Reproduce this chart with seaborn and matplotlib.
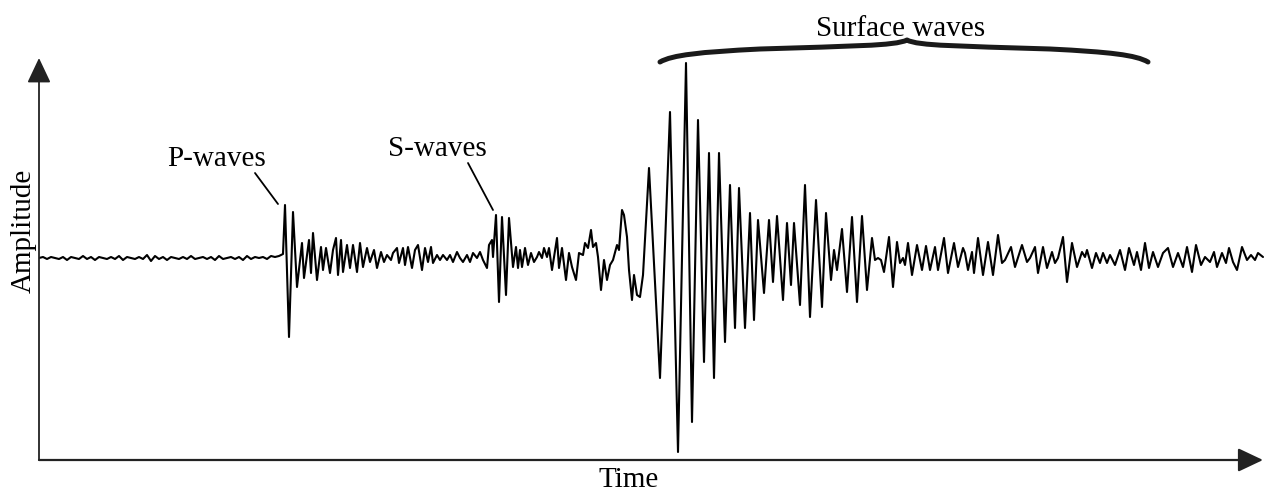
import numpy as np
import pandas as pd
import matplotlib
matplotlib.use("Agg")
import matplotlib.pyplot as plt
from matplotlib.path import Path
from matplotlib.patches import PathPatch
from matplotlib.lines import Line2D
import seaborn as sns

# ---------------- data (time in arbitrary units, amplitude in arbitrary units) -------------
# background noise before the P arrival, sampled every 4 time units from t = 0
quiet_amp = [0, 1, -1, 1, 0, -1, 1, -2, 1, 0,
             -1, 2, -1, 1, -2, 1, 0, -1, 1, -1,
             2, -2, 1, 0, -1, 1, -1, 3, -3, 2,
             -1, 1, -2, 1, 0, -1, 1, -1, 2, -1,
             0, 1, -1, 1, -2, 2, -1, 0, 1, -1,
             1, -2, 2, -1, 1, 0, 1, -1, 2, 1,
             2, 4]
quiet_step = 4

p_time = [246, 250, 254, 258, 263, 265, 270, 272, 274, 278, 282, 284, 287, 291, 294,
          297, 299, 302, 304, 308, 311, 314, 318, 321, 324, 328, 331, 335, 338, 342,
          345, 348, 352, 354, 358, 360, 364, 366, 369, 373, 376, 379, 383, 386, 389,
          392, 394, 398, 401, 404, 408, 411, 414, 418, 421]
p_amp = [53, -79, 46, -29, 15, -20, 18, -15, 25, -22, 11, -12, 10, -15, 8,
         20, -17, 18, -14, 13, -10, 13, -14, 15, -9, 10, -4, 8, -10, 6,
         -4, 3, -2, 5, 10, -5, 10, -7, 11, -10, 8, 13, -12, 10, -4,
         11, -5, 3, -2, 3, -2, 3, -4, 6, 0]

s_time = [424, 428, 431, 434, 438, 441, 444, 448, 450, 453, 454, 457, 460, 463, 467,
          470, 474, 477, 479, 481, 483, 486, 489, 492, 495, 498, 500, 503, 505, 508,
          510, 513, 518, 520, 523, 527, 530, 533, 537, 540, 544, 546, 549, 552, 554,
          557, 559, 562, 565, 568, 571, 574, 578, 580, 583, 585, 588, 590, 593, 595,
          598, 601, 604]
s_amp = [-4, 3, -4, 5, 0, 6, -2, -10, 13, 18, 1, 43, -44, 41, -37,
         40, -9, 11, -10, 8, -9, 10, -7, 5, -4, 1, 6, 0, 10, 1,
         10, -12, 20, -10, 10, -22, 5, -9, -22, 5, 3, 15, 10, 28, 11,
         15, 1, -32, -2, -22, -7, -2, 13, 8, 48, 43, 21, -12, -42, -17,
         -37, -39, -17]

surf_time = [610, 621, 631, 639, 647, 653, 659, 665, 670, 675, 680, 686, 691, 696, 700,
             706, 711, 715, 719, 725, 730, 734, 738, 744, 748, 752, 755, 761, 766, 771,
             777, 783, 787, 792, 795, 798, 803, 808, 813, 818, 823, 828, 833, 836, 839,
             842, 845, 850, 854, 858, 861, 864, 866, 869, 873, 878, 883, 887, 891]
surf_amp = [90, -120, 146, -194, 195, -164, 138, -104, 105, -120, 105, -84, 73, -70, 70,
            -70, 45, -62, 38, -35, 38, -24, 42, -42, 35, -27, 35, -47, 73, -59,
            58, -49, 45, -22, 8, -12, 29, -34, 41, -44, 42, -32, 20, -2, 0,
            -2, -14, 21, -29, 16, -5, 0, -7, 15, -17, 13, -12, 12, -12]

coda_time = [896, 899, 905, 909, 915, 919, 924, 926, 929, 933, 935, 939, 944, 949, 954,
             959, 963, 966, 972, 976, 983, 988, 991, 996, 999, 1004, 1008, 1013, 1016, 1019,
             1024, 1028, 1033, 1038, 1043, 1046, 1048, 1053, 1057, 1061, 1064, 1068, 1071, 1076, 1081,
             1086, 1090, 1095, 1098, 1102, 1106, 1110, 1114, 1119, 1124, 1129, 1134, 1139, 1144, 1148,
             1153, 1157, 1162, 1166, 1171, 1175, 1178, 1183, 1187, 1190, 1194, 1198, 1203, 1208, 1212,
             1216, 1219, 1224]
coda_amp = [11, -12, 20, -15, 15, -9, 10, 5, -12, 6, -15, 20, -17, 16, -17,
            23, -5, -2, 11, -9, 13, -4, 0, 11, -15, 11, -10, 6, -5, 0,
            21, -24, 15, -9, 6, 1, 8, -10, 5, -5, 5, -5, 3, -7, 8,
            -12, 10, -7, 6, -12, 15, -10, 6, -9, 5, 10, -9, 5, -9, 11,
            -14, 13, -7, 1, -4, 6, -9, 5, -5, 10, -4, -12, 11, -2, 3,
            -2, 5, 1]

labels = {"p": "P-waves", "s": "S-waves", "surface": "Surface waves",
          "x": "Time", "y": "Amplitude"}

# ---------------- assemble ----------------
quiet_time = list(np.arange(len(quiet_amp)) * quiet_step)
df = pd.DataFrame({
    "time": quiet_time + p_time + s_time + surf_time + coda_time,
    "amplitude": quiet_amp + p_amp + s_amp + surf_amp + coda_amp,
})

# ---------------- figure ----------------
sns.set_theme(style="white")
plt.rcParams["font.family"] = ["Liberation Serif", "DejaVu Serif"]
plt.rcParams["text.color"] = "black"

W, H = 1264, 495
fig = plt.figure(figsize=(W / 100, H / 100), dpi=100)
fig.patch.set_facecolor("white")
ax = fig.add_axes([39 / W, 35 / H, (W - 39) / W, 460 / H])
ax.set_xlim(0, 1225)
ax.set_ylim(-202, 258)
ax.axis("off")

sns.lineplot(data=df, x="time", y="amplitude", ax=ax, sort=False, estimator=None,
             color="black", linewidth=1.5, solid_joinstyle="round",
             solid_capstyle="round")

# axes with arrows
arrow_style = "-|>,head_length=0.55,head_width=0.26"
ax.annotate("", xy=(0, 200), xytext=(0, -202),
            arrowprops=dict(arrowstyle=arrow_style, mutation_scale=28,
                            color="#222222", lw=1.3, shrinkA=0, shrinkB=0),
            annotation_clip=False)
ax.annotate("", xy=(1224, -202), xytext=(0, -202),
            arrowprops=dict(arrowstyle=arrow_style, mutation_scale=28,
                            color="#222222", lw=1.6, shrinkA=0, shrinkB=0),
            annotation_clip=False)


def fx(px):
    return px / W


def fy(py):
    return 1 - py / H


fs = 21
fig.text(fx(217), fy(166), labels["p"], ha="center", va="baseline", fontsize=fs, color="black")
fig.text(fx(437), fy(156), labels["s"], ha="center", va="baseline", fontsize=fs, color="black")
fig.text(fx(901), fy(36), labels["surface"], ha="center", va="baseline", fontsize=fs, color="black")
fig.text(fx(629), fy(487), labels["x"], ha="center", va="baseline", fontsize=fs, color="black")
fig.text(fx(24), fy(231), labels["y"], ha="center", va="center", rotation=90, fontsize=fs,
         color="black")

# leader lines
for (x0, y0, x1, y1) in [(255, 173, 278, 204), (468, 163, 493, 210)]:
    fig.add_artist(Line2D([fx(x0), fx(x1)], [fy(y0), fy(y1)], color="black", lw=1.3,
                          transform=fig.transFigure))

# curly brace over the surface waves
pts = [(660, 62), (672, 55), (700, 52), (760, 49),
       (850, 46), (895, 46), (907, 40),
       (918, 46), (960, 46), (1050, 49),
       (1110, 52), (1136, 55), (1148, 62)]
codes = [Path.MOVETO] + [Path.CURVE4] * 12
verts = [(fx(x), fy(y)) for x, y in pts]
fig.add_artist(PathPatch(Path(verts, codes), fill=False, lw=3.6, edgecolor="#1a1a1a",
                         capstyle="round", joinstyle="round", transform=fig.transFigure))

fig.savefig("out.png", dpi=100, facecolor="white")
